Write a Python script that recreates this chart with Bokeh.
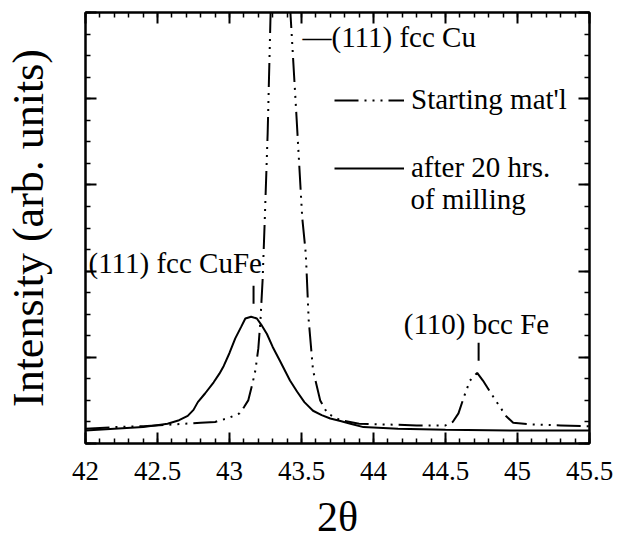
from bokeh.plotting import figure
from bokeh.models import (Range1d, LinearAxis, SingleIntervalTicker, CustomJSTickFormatter,
                          Legend, LegendItem, Label)
from bokeh.embed import file_html
from bokeh.resources import INLINE

# ---- data ----
start_x = [42.00, 42.20, 42.40, 42.60, 42.80, 42.90, 43.00, 43.07, 43.10, 43.13, 43.16, 43.18,
           43.20, 43.215, 43.23, 43.245, 43.265, 43.285, 43.30, 43.355, 43.40, 43.424, 43.465,
           43.505, 43.53, 43.55, 43.58, 43.63, 43.68, 43.77, 43.90, 44.10, 44.30, 44.50, 44.55,
           44.59, 44.63, 44.67, 44.72, 44.76, 44.84, 44.92, 44.97, 45.10, 45.30, 45.50]
start_y = [0.17, 0.19, 0.20, 0.22, 0.24, 0.25, 0.30, 0.35, 0.42, 0.50, 0.70, 0.85,
           1.10, 1.43, 1.90, 2.60, 3.60, 4.97, 6.00, 9.00, 6.00, 4.97, 3.80,
           2.62, 2.20, 1.43, 0.85, 0.50, 0.35, 0.27, 0.23, 0.22, 0.21, 0.21, 0.25,
           0.35, 0.55, 0.73, 0.82, 0.73, 0.52, 0.32, 0.24, 0.22, 0.21, 0.20]

mill_x = [42.00, 42.20, 42.40, 42.57, 42.65, 42.71, 42.75, 42.78, 42.83, 42.89, 42.93, 42.96,
          43.00, 43.04, 43.08, 43.11, 43.15, 43.19, 43.22, 43.26, 43.30, 43.35, 43.42, 43.47,
          43.52, 43.58, 43.64, 43.70, 43.77, 43.84, 43.93, 44.17, 44.50, 45.00, 45.50]
mill_y = [0.15, 0.17, 0.19, 0.23, 0.27, 0.32, 0.39, 0.48, 0.58, 0.71, 0.81, 0.90,
          1.05, 1.22, 1.35, 1.45, 1.47, 1.45, 1.38, 1.27, 1.12, 0.96, 0.73, 0.60,
          0.48, 0.38, 0.33, 0.29, 0.26, 0.23, 0.19, 0.17, 0.16, 0.15, 0.15]

series_names = ["Starting mat'l", "after 20 hrs."]
series_note = "of milling"

x_ticks = [42, 42.5, 43, 43.5, 44, 44.5, 45, 45.5]
x_tick_labels = ["42", "42.5", "43", "43.5", "44", "44.5", "45", "45.5"]
x_title = "2\u03b8"
y_title = "Intensity (arb. units)"

peak_names = ["(111) fcc CuFe", "\u2014(111) fcc Cu", "(110) bcc Fe"]
peak_pos = [43.167, 43.35, 44.73]

FONT = "Liberation Serif"

p = figure(width=625, height=547, output_backend="svg", toolbar_location=None,
           x_range=Range1d(42, 45.5), y_range=Range1d(0, 5),
           x_axis_label=x_title, y_axis_label=y_title,
           min_border_left=84, min_border_right=36, min_border_top=12, min_border_bottom=104)
p.grid.visible = False
p.outline_line_color = "black"
p.outline_line_width = 2
p.background_fill_color = "white"
p.border_fill_color = "white"

empty = CustomJSTickFormatter(code="return ''")


def style_axis(ax, interval, minors, labels=True):
    ax.ticker = SingleIntervalTicker(interval=interval, num_minor_ticks=minors)
    ax.axis_line_color = "black"
    ax.axis_line_width = 2
    ax.major_tick_in = 11
    ax.major_tick_out = 0
    ax.minor_tick_in = 5
    ax.minor_tick_out = 0
    ax.major_tick_line_width = 2
    ax.minor_tick_line_width = 1.5
    ax.major_tick_line_color = "black"
    ax.minor_tick_line_color = "black"
    if not labels:
        ax.formatter = empty
        ax.major_label_standoff = 0


xb = p.xaxis[0]
style_axis(xb, 0.5, 5)
xb.major_label_overrides = {float(t): s for t, s in zip(x_ticks, x_tick_labels)}
xb.major_label_text_font = FONT
xb.major_label_text_font_size = "27px"
xb.major_label_text_color = "black"
xb.major_label_standoff = 18
xb.axis_label_text_font = FONT
xb.axis_label_text_font_size = "42px"
xb.axis_label_text_font_style = "normal"
xb.axis_label_text_color = "black"
xb.axis_label_standoff = 11

yl = p.yaxis[0]
style_axis(yl, 1, 4, labels=False)
yl.axis_label_text_font = FONT
yl.axis_label_text_font_size = "44px"
yl.axis_label_text_font_style = "normal"
yl.axis_label_text_color = "black"
yl.axis_label_standoff = 33

xt = LinearAxis()
style_axis(xt, 0.5, 5, labels=False)
p.add_layout(xt, "above")
yr = LinearAxis()
style_axis(yr, 1, 4, labels=False)
p.add_layout(yr, "right")

r_start = p.line(start_x, start_y, line_color="black", line_width=2,
                 line_dash="24 6 2 6 2 6 2 6")
r_mill = p.line(mill_x, mill_y, line_color="black", line_width=2)

legend = Legend(items=[LegendItem(label=series_names[0], renderers=[r_start]),
                       LegendItem(label=series_names[1], renderers=[r_mill])],
                location=(249, 259), glyph_width=70, glyph_height=30, label_height=30,
                spacing=35, label_standoff=7, padding=0, margin=0,
                border_line_alpha=0, background_fill_alpha=0,
                label_text_font=FONT, label_text_font_size="29px",
                label_text_color="black")
p.add_layout(legend)

txt = dict(text_font=FONT, text_font_size="29px", text_color="black",
           text_baseline="alphabetic")
p.add_layout(Label(x=44.257, y=2.84, text=series_note, **txt))

# peak annotations
p.add_layout(Label(x=42.021, y=2.09, text=peak_names[0], **txt))
p.add_layout(Label(x=43.507, y=4.72, text=peak_names[1], **txt))
p.add_layout(Label(x=44.715, y=1.39, text=peak_names[2], text_align="center", **txt))

p.segment(x0=[peak_pos[0], peak_pos[2]], y0=[1.62, 0.96],
          x1=[peak_pos[0], peak_pos[2]], y1=[1.83, 1.17],
          line_color="black", line_width=2)

open("out.html", "w").write(file_html(p, INLINE))
